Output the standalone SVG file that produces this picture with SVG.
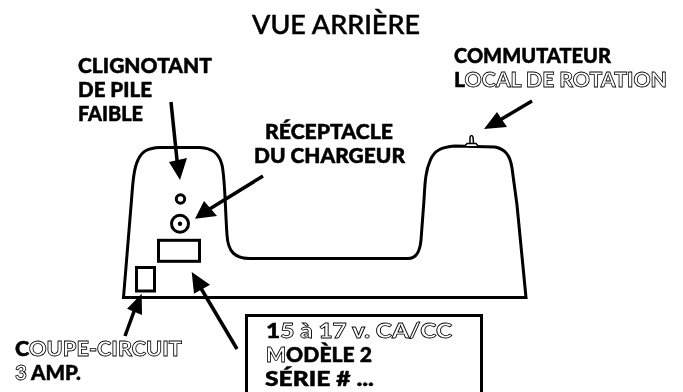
<svg xmlns="http://www.w3.org/2000/svg" width="683" height="392" viewBox="0 0 683 392">
<defs><filter id="gray" x="-5%" y="-30%" width="110%" height="160%" color-interpolation-filters="sRGB"><feColorMatrix type="saturate" values="0"/></filter></defs>
<style>
text{font-family:"Lato","Liberation Sans",sans-serif;font-weight:900;font-size:21px;fill:#000;stroke:#000;stroke-width:.5px;filter:url(#gray)}
.title{font-weight:500;font-size:27px;stroke-width:.5px}
.o{fill:none;stroke:#000;stroke-width:.8px;font-weight:900}
.s{fill:none;stroke:#000;stroke-width:3}
.a{fill:none;stroke:#000;stroke-width:3.5}
.h{fill:#000}
</style>
<rect width="683" height="392" fill="#fff"/>
<g id="title"><text class="title" x="252" y="34" textLength="168" lengthAdjust="spacingAndGlyphs">VUE ARRIÈRE</text></g>
<g id="charger-base">
<path class="s" d="M123.500 297.500 L131.500 200 C133 180 134 168 138 160 C142 151 148 148 160 147.500 L200 147.500 C212 148 219 153 222 165 C225 178 225 205 227 235 C228 252 235 258.500 250 258.500 L408 258.500 C416 258.500 420 252 421 240 L424 200 C425 180 426 170 430 161 C434 150 442 147 455 146 L495 147 C505 149 510 155 512 168 L517 205 L526 297.500 Z"/>
</g>
<g id="voyant"><circle class="s" cx="180.500" cy="199" r="4.200"/></g>
<g id="receptacle"><circle class="s" cx="180" cy="223.700" r="8.500"/><circle class="h" cx="180" cy="223.700" r="2.200"/></g>
<g id="plaque"><rect class="s" x="158.500" y="240.300" width="41" height="21"/></g>
<g id="coupe-circuit"><rect class="s" x="136.500" y="267.500" width="18" height="23.500"/></g>
<g id="commutateur"><path fill="#fff" stroke="#000" stroke-width="1.500" d="M470 143 L470 137 Q471.500 134 473 137 L473.500 143 M465 146 L467 143.500 L476 143.500 L478 146"/></g>
<g id="connectors">
<path class="a" d="M171 102 L177.500 165 M263 176 L208 210 M532 101 L500 120 M125 336 L136 306 M237 349 L199 285"/>
<path class="h" d="M180 180 L169 162 L187 158 Z M195 218.700 L204 201 L217 216 Z M484 129 L497 112 L507 127 Z M141.700 293.700 L127 308.700 L142 315 Z M191.700 272 L194 293.700 L210 284.700 Z"/>
</g>
<g id="label-clignotant">
<text x="78" y="73" textLength="134" lengthAdjust="spacingAndGlyphs">CLIGNOTANT</text>
<text x="78" y="97" textLength="74" lengthAdjust="spacingAndGlyphs">DE PILE</text>
<text x="78" y="121" textLength="65" lengthAdjust="spacingAndGlyphs">FAIBLE</text>
</g>
<g id="label-receptacle">
<text x="265" y="139" textLength="128" lengthAdjust="spacingAndGlyphs">RÉCEPTACLE</text>
<text x="254" y="163" textLength="151" lengthAdjust="spacingAndGlyphs">DU CHARGEUR</text>
</g>
<g id="label-commutateur">
<text x="454" y="63" textLength="157" lengthAdjust="spacingAndGlyphs">COMMUTATEUR</text>
<text x="454" y="87" textLength="213" lengthAdjust="spacingAndGlyphs">L<tspan class="o">OCAL DE ROTATION</tspan></text>
</g>
<g id="label-coupe">
<text x="15" y="356" textLength="167" lengthAdjust="spacingAndGlyphs">C<tspan class="o">OUPE-CIRCUIT</tspan></text>
<text x="15" y="380" textLength="66" lengthAdjust="spacingAndGlyphs"><tspan class="o">3</tspan> AMP.</text>
</g>
<g id="plaque-info">
<path class="s" d="M246.500 392 L246.500 315.500 L481.500 315.500 L481.500 392"/>
<text x="266" y="338" textLength="186" lengthAdjust="spacingAndGlyphs">1<tspan class="o">5 à 17 v. CA/CC</tspan></text>
<text x="266" y="362" textLength="106" lengthAdjust="spacingAndGlyphs"><tspan class="o">M</tspan>ODÈLE 2</text>
<text x="265" y="386" textLength="109" lengthAdjust="spacingAndGlyphs">SÉRIE # ...</text>
</g>
</svg>
